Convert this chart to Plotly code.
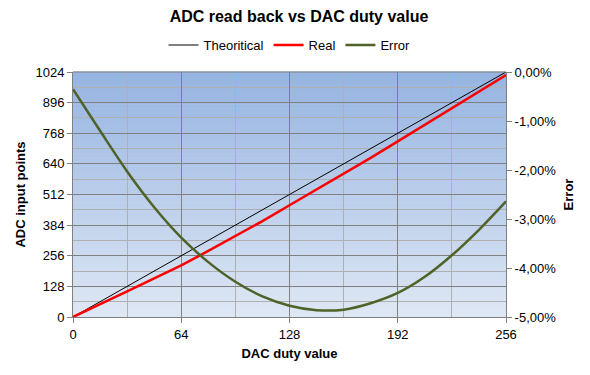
import plotly.graph_objects as go

# ---- data ----
duty_theo = [0, 32, 64, 96, 128, 160, 192, 224, 256]
adc_theo = [0, 128, 256, 384, 512, 640, 768, 896, 1024]

duty_real = [0, 16, 32, 48, 64, 80, 96, 112, 128, 144, 160, 176, 192, 208, 224, 240, 256]
adc_real = [0, 52, 107, 161, 216, 276, 338, 401, 467, 532, 598, 665, 734, 803, 872, 942, 1011]

duty_err = [0, 16, 32, 48, 64, 80, 96, 112, 128, 144, 160, 176, 192, 208, 224, 240, 256]
err_pct = [-0.35, -1.20, -2.03, -2.76, -3.38, -3.88, -4.28, -4.58, -4.77, -4.86, -4.85, -4.72,
           -4.51, -4.18, -3.74, -3.22, -2.64]

x_ticks = [0, 64, 128, 192, 256]
y_ticks = [0, 128, 256, 384, 512, 640, 768, 896, 1024]
err_tickvals = [0, -0.01, -0.02, -0.03, -0.04, -0.05]
err_ticktext = ["0,00%", "-1,00%", "-2,00%", "-3,00%", "-4,00%", "-5,00%"]

FONT = "Liberation Sans, Arial, sans-serif"
W, H = 582, 367  # page body has an 8px margin

fig = go.Figure()
fig.add_trace(go.Scatter(x=duty_theo, y=adc_theo, mode="lines", name="Theoritical",
                         line=dict(color="#000000", width=1)))
fig.add_trace(go.Scatter(x=duty_real, y=adc_real, mode="lines", name="Real",
                         line=dict(color="#FF0000", width=2.5)))
fig.add_trace(go.Scatter(x=duty_err, y=[v / 100 for v in err_pct], mode="lines", name="Error",
                         yaxis="y2", line=dict(color="#4F6228", width=2.5, shape="spline")))

# gradient background for the plot area
top = (150, 180, 225)
bot = (222, 231, 244)
n = 60
shapes = []
for i in range(n):
    t = i / (n - 1)
    c = tuple(round(bot[k] + (top[k] - bot[k]) * t) for k in range(3))
    shapes.append(dict(type="rect", xref="x domain", yref="y domain",
                       x0=0, x1=1, y0=i / n, y1=(i + 1) / n + 0.002,
                       fillcolor="rgb(%d,%d,%d)" % c, line=dict(width=0), layer="below"))
shapes.append(dict(type="line", xref="x domain", yref="y domain", x0=0, x1=1, y0=1, y1=1,
                   line=dict(color="#808080", width=1), layer="above"))

fig.update_layout(
    width=W, height=H,
    margin=dict(l=65, r=84, t=64, b=58),
    paper_bgcolor="white", plot_bgcolor="rgb(222,231,244)",
    font=dict(family=FONT, size=13, color="#000000"),
    title=dict(text="<b>ADC read back vs DAC duty value</b>", x=0.5, xanchor="center",
               y=1 - 8 / H, yanchor="middle", font=dict(size=16, family=FONT)),
    legend=dict(orientation="h", x=0.5, xanchor="center", y=1.11, yanchor="middle",
                font=dict(size=13), bgcolor="rgba(0,0,0,0)", itemwidth=30, tracegroupgap=0),
    shapes=shapes,
    xaxis=dict(range=[0, 256], tickvals=x_ticks, ticks="outside", ticklen=5,
               tickcolor="#808080", showline=True, linecolor="#808080", linewidth=1,
               showgrid=True, gridcolor="#808080", gridwidth=1,
               minor=dict(dtick=32, showgrid=True, gridcolor="#B0B0B0", gridwidth=1, ticks=""),
               zeroline=False,
               title=dict(text="<b>DAC duty value</b>", font=dict(size=13), standoff=8),
               tickfont=dict(size=13)),
    yaxis=dict(range=[0, 1024], tickvals=y_ticks, ticks="outside", ticklen=5,
               tickcolor="#808080", showline=True, linecolor="#808080", linewidth=1,
               showgrid=True, gridcolor="#808080", gridwidth=1,
               minor=dict(dtick=64, showgrid=True, gridcolor="#B0B0B0", gridwidth=1, ticks=""),
               zeroline=False,
               title=dict(text="<b>ADC input points</b>", font=dict(size=13), standoff=6),
               tickfont=dict(size=13)),
    yaxis2=dict(range=[-0.05, 0], overlaying="y", side="right",
                tickvals=err_tickvals, ticktext=err_ticktext, ticks="outside", ticklen=5,
                tickcolor="#808080", showline=True, linecolor="#808080", linewidth=1,
                showgrid=False, zeroline=False,
                title=dict(text="<b>Error</b>", font=dict(size=13), standoff=8),
                tickfont=dict(size=13)),
)

fig.write_html("out.html")
